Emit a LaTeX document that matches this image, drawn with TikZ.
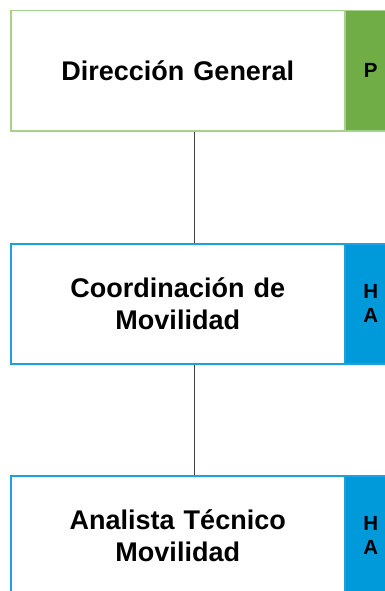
\documentclass[tikz,border=0pt]{standalone}
\usepackage{fontspec}
\setmainfont{Liberation Sans}
\definecolor{gborder}{HTML}{A9D18E}
\definecolor{gtab}{HTML}{70AD47}
\definecolor{bborder}{HTML}{1BA1DC}
\definecolor{btab}{HTML}{009ADA}
\definecolor{conn}{HTML}{404040}
\begin{document}
\begin{tikzpicture}[x=1pt,y=-1pt,
  mainbox/.style={draw, line width=1.5pt, fill=white, minimum width=334pt, minimum height=120pt,
    inner sep=0pt, align=center, font=\fontsize{27}{32}\selectfont\bfseries, text width=320pt},
  tabbox/.style={draw, line width=1.5pt, minimum width=52pt, minimum height=120pt, inner sep=0pt,
    align=center, font=\fontsize{20.5}{24}\selectfont\bfseries, text width=30pt},
  conline/.style={draw=conn, line width=0.9pt}]
\useasboundingbox (0,0) rectangle (385,591);
\clip (0,0) rectangle (385,591);
\fill[white] (0,0) rectangle (385,591);
\coordinate (lx) at (194,0);
% box 1
\node[tabbox, draw=gborder, fill=gtab, anchor=north west] (t1) at (344,10) {P};
\node[mainbox, draw=gborder, anchor=north west] (b1) at (10,10) {Dirección General};
% box 2
\node[tabbox, draw=bborder, fill=btab, anchor=north west] (t2) at (344,243) {H\\A};
\node[mainbox, draw=bborder, anchor=north west] (b2) at (10,243) {Coordinación de\\Movilidad};
% box 3
\node[tabbox, draw=bborder, fill=btab, anchor=north west] (t3) at (344,475) {H\\A};
\node[mainbox, draw=bborder, anchor=north west] (b3) at (10,475) {Analista Técnico\\Movilidad};
% connectors
\draw[conline] (b1.south -| lx) -- (b2.north -| lx);
\draw[conline] (b2.south -| lx) -- (b3.north -| lx);
\end{tikzpicture}
\end{document}
